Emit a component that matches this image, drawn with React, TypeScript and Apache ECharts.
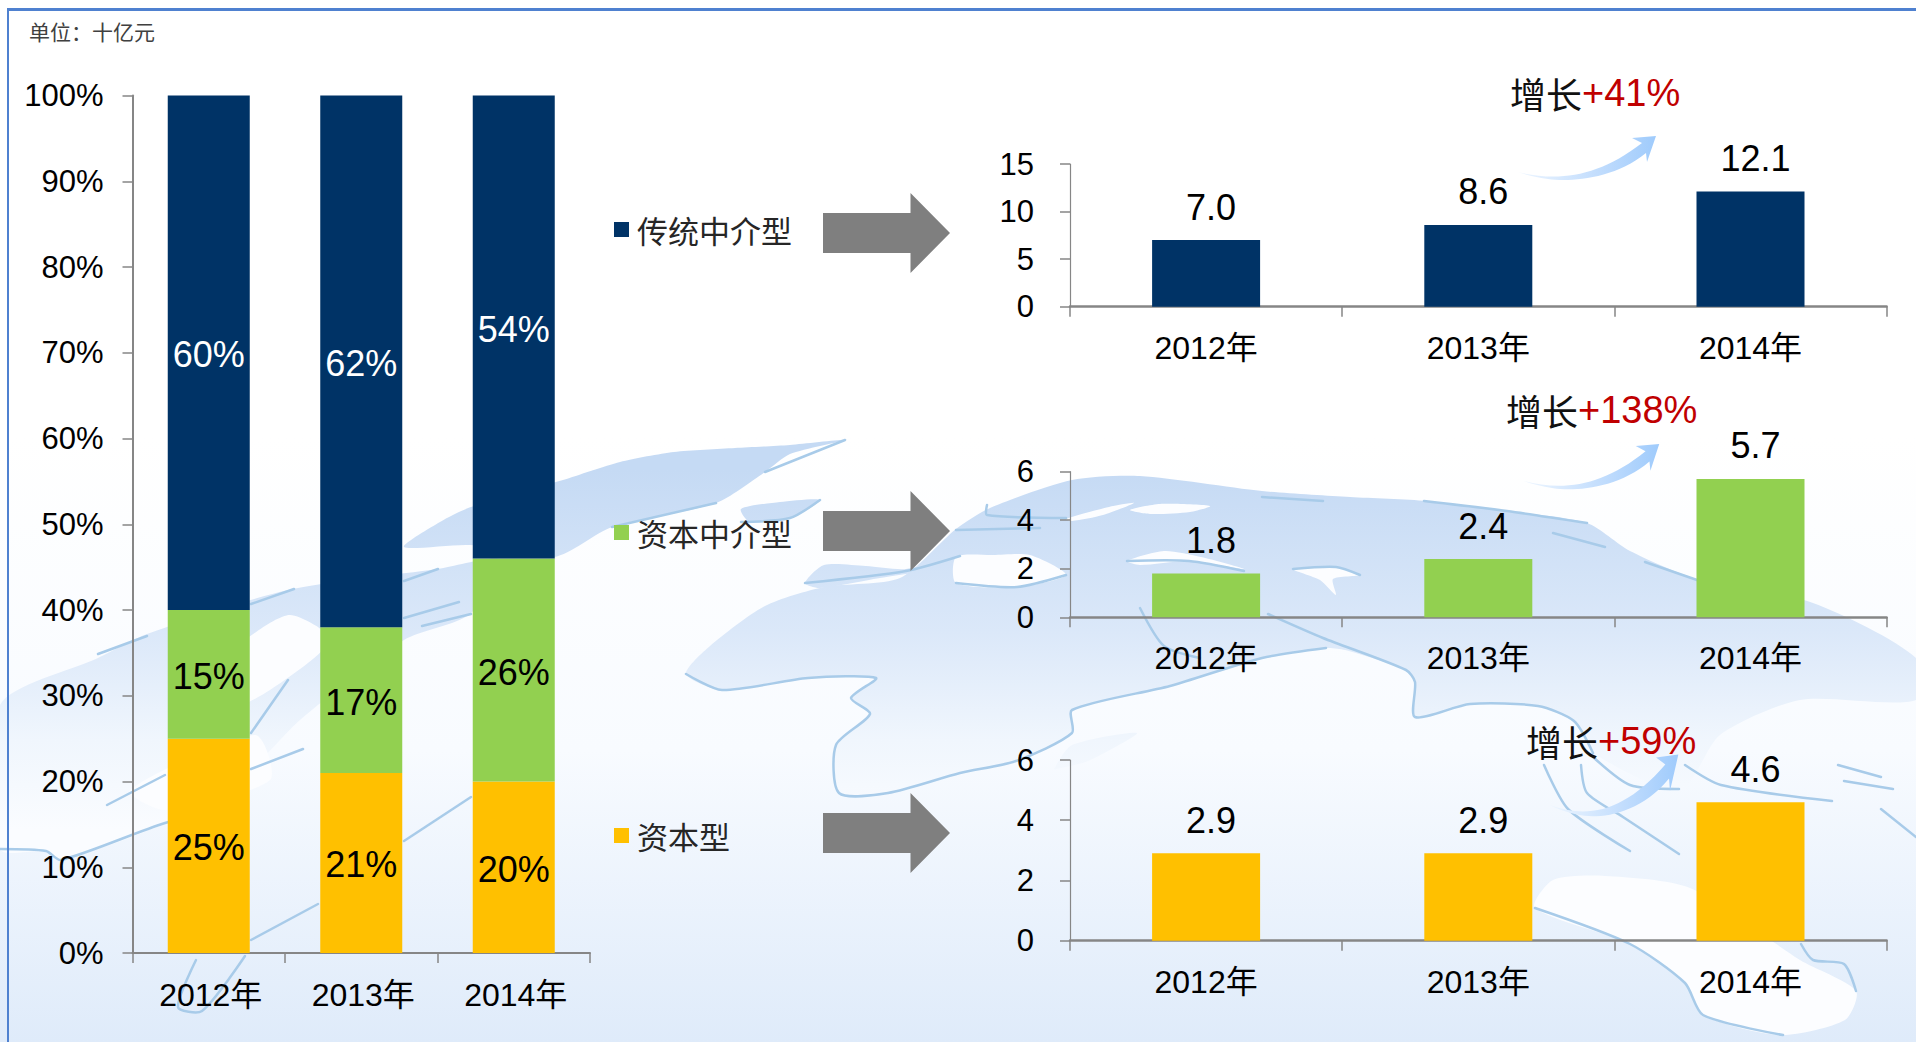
import React, { useEffect, useRef } from "react";
import * as echarts from "echarts";

const years = ["2012年", "2013年", "2014年"];
const shareCapital = [25, 21, 20];
const shareCapitalIntermediary = [15, 17, 26];
const shareTraditional = [60, 62, 54];
const valuesTraditional = [7.0, 8.6, 12.1];
const valuesCapitalIntermediary = [1.8, 2.4, 5.7];
const valuesCapital = [2.9, 2.9, 4.6];
const legendNames = ["传统中介型", "资本中介型", "资本型"];
const growthLabels = ["+41%", "+138%", "+59%"];
const unitLabel = "单位：十亿元";

const NAVY = "#003366";
const GREEN = "#92d050";
const AMBER = "#ffc000";
const AXIS = "#868686";
const FONT = "'Liberation Sans','Noto Sans CJK SC',sans-serif";
const CJK = "'Noto Sans CJK SC','Liberation Sans',sans-serif";

echarts.graphic.registerShape(
  "growArrow",
  echarts.graphic.extendPath(
    "M0 0 C40 10 80 5 124 -29 L114 -34 L138 -36 L129 -10 L128 -19 C95 8 50 10 30 7 C18 5 8 3 0 0 Z",
    {} as any
  ) as any
);

// decorative world-map backdrop
const land: number[][][] = [
  // Greenland / Arctic arm
  [[404, 547], [440, 522], [471, 507], [563, 480], [620, 462], [674, 452], [735, 448], [790, 445], [845, 440], [790, 454], [765, 472], [716, 503], [612, 527], [554, 557], [470, 545]],
  [[741, 509], [780, 502], [820, 500], [790, 518], [750, 522]],
  [[805, 583], [824, 565], [866, 566], [906, 569], [960, 555], [956, 565], [880, 578], [820, 588]],
  // Scandinavia and northern Russia + Eurasia + Arabia + Africa
  [[686, 674], [710, 646], [765, 606], [824, 587], [900, 578], [956, 529], [990, 508], [1072, 480], [1140, 476], [1262, 491], [1350, 497], [1427, 501], [1507, 511], [1587, 523], [1630, 551], [1697, 579], [1813, 603], [1916, 658], [1916, 700], [1800, 700], [1720, 735], [1680, 790], [1593, 753], [1574, 721], [1538, 706], [1470, 704], [1415, 717], [1415, 682], [1406, 670], [1345, 650], [1326, 648], [1262, 658], [1170, 686], [1072, 710], [1072, 733], [1016, 761], [960, 773], [888, 793], [839, 793], [836, 745], [870, 714], [851, 698], [876, 678], [808, 678], [722, 690]],
  // Madagascar
  [[1054, 769], [1072, 745], [1137, 733], [1088, 761], [1057, 769]],
  // left: Americas side
  [[0, 705], [98, 658], [147, 634], [288, 590], [438, 569], [500, 560], [470, 614], [404, 640], [300, 720], [250, 770], [165, 823], [61, 860], [46, 851], [0, 849]],
];
const gaps: number[][][] = [
  [[956, 557], [993, 555], [1030, 555], [1066, 575], [1017, 587], [956, 583]],
  [[1127, 561], [1164, 551], [1201, 557], [1244, 569], [1189, 561], [1140, 565]],
  [[1293, 569], [1336, 567], [1360, 575], [1333, 579], [1336, 595], [1320, 580]],
  [[1066, 519], [1109, 507], [1134, 503], [1103, 515], [1072, 521]],
  [[1130, 510], [1160, 504], [1210, 506], [1190, 512], [1150, 514]],
  [[1553, 880], [1605, 876], [1690, 888], [1800, 960], [1856, 991], [1845, 1020], [1780, 1035], [1703, 1015], [1685, 983], [1630, 944], [1535, 908]],
  [[245, 640], [290, 615], [330, 640], [270, 690], [215, 715], [175, 700]],
  [[130, 790], [255, 735], [270, 780], [165, 810]],
];
const coasts: number[][][] = [
  [[686, 674], [722, 690], [808, 678], [876, 678], [851, 698], [870, 714], [836, 745], [839, 793], [888, 793], [960, 773], [1016, 761], [1072, 733], [1072, 710], [1170, 686], [1262, 658], [1326, 648]],
  [[1140, 608], [1164, 646], [1200, 658]],
  [[1268, 614], [1323, 638], [1406, 670], [1415, 682], [1415, 717], [1470, 704], [1538, 706], [1574, 721], [1593, 753]],
  [[987, 505], [987, 515], [1066, 518]],
  [[956, 583], [1017, 587], [1066, 575]],
  [[1127, 561], [1189, 561], [1244, 571]],
  [[1293, 569], [1336, 567], [1360, 575]],
  [[956, 530], [1040, 528]],
  [[1262, 497], [1323, 501]],
  [[1424, 501], [1507, 511], [1587, 523]],
  [[1553, 533], [1605, 547]],
  [[1645, 562], [1697, 580]],
  [[805, 583], [906, 571], [960, 556]],
  [[741, 522], [790, 518], [820, 500]],
  [[612, 527], [716, 503]],
  [[765, 472], [845, 440]],
  [[98, 654], [147, 636]],
  [[251, 604], [294, 589]],
  [[404, 581], [438, 569]],
  [[422, 626], [471, 614]],
  [[404, 618], [459, 602]],
  [[251, 733], [288, 680]],
  [[251, 769], [303, 749]],
  [[107, 805], [165, 775]],
  [[0, 849], [46, 851], [61, 860], [165, 823], [240, 805]],
  [[251, 940], [318, 904]],
  [[404, 841], [471, 797]],
  [[196, 960], [178, 1007], [202, 1011], [245, 956]],
  [[1544, 765], [1568, 809], [1630, 851]],
  [[1581, 765], [1587, 793], [1623, 817], [1679, 854]],
  [[1593, 757], [1630, 785], [1679, 789]],
  [[1685, 765], [1721, 785], [1832, 801]],
  [[1838, 765], [1881, 777]],
  [[1844, 781], [1893, 789]],
  [[1881, 809], [1916, 837]],
  [[1535, 908], [1630, 944], [1685, 983], [1703, 1015], [1783, 1035]],
  [[1801, 944], [1813, 960], [1844, 964], [1856, 991]],
];

function blockArrow(cy: number) {
  return {
    type: "polygon",
    z: 1,
    shape: {
      points: [[823, cy - 20], [910.5, cy - 20], [910.5, cy - 40], [950, cy], [910.5, cy + 40], [910.5, cy + 20], [823, cy + 20]],
    },
    style: { fill: "#7f7f7f" },
  };
}

function growText(label: string, x: number, y: number) {
  return {
    type: "text",
    x,
    y,
    z: 6,
    style: {
      text: `{a|增长}{b|${label}}`,
      verticalAlign: "middle",
      rich: {
        a: { fontFamily: CJK, fontSize: 36, fill: "#111111", fontWeight: "normal" },
        b: { fontFamily: FONT, fontSize: 38, fill: "#c00000", fontWeight: "normal" },
      },
    },
  };
}

function growArrow(x: number, y: number, sx: number, sy: number) {
  return {
    type: "growArrow",
    x,
    y,
    scaleX: sx,
    scaleY: sy,
    z: 5,
    style: {
      fill: new echarts.graphic.LinearGradient(0, 0, 1, 0, [
        { offset: 0, color: "#eef6ff" },
        { offset: 0.55, color: "#c4defd" },
        { offset: 1, color: "#9fcbfc" },
      ]),
    },
  };
}

function background() {
  const fill = new echarts.graphic.LinearGradient(0, 470, 0, 830, [
    { offset: 0, color: "#c5daf4" },
    { offset: 0.45, color: "#dbe8f9" },
    { offset: 0.75, color: "#f0f6fd" },
    { offset: 1, color: "#fafcff" },
  ], true);
  return [
    {
      type: "rect",
      z: -5,
      shape: { x: 0, y: 0, width: 1916, height: 1042 },
      style: {
        fill: new echarts.graphic.LinearGradient(0, 0, 0, 1, [
          { offset: 0, color: "#ffffff" },
          { offset: 0.42, color: "#ffffff" },
          { offset: 0.72, color: "#f8fbff" },
          { offset: 1, color: "#dfebfa" },
        ]),
      },
    },
    ...land.map((points) => ({ type: "polygon", z: -4, shape: { points, smooth: 0.25 }, style: { fill } })),
    ...gaps.map((points) => ({ type: "polygon", z: -3, shape: { points, smooth: 0.25 }, style: { fill: "#fcfdff" } })),
    ...coasts.map((points) => ({
      type: "polyline",
      z: -2,
      shape: { points, smooth: 0.25 },
      style: { fill: "none", stroke: "#a8cbe9", lineWidth: 2.5, lineCap: "round" },
    })),
    { type: "rect", z: 7, shape: { x: 7, y: 8, width: 1909, height: 3 }, style: { fill: "#4f81d0" } },
    { type: "rect", z: 7, shape: { x: 7, y: 8, width: 2, height: 1034 }, style: { fill: "#4f81d0" } },
  ];
}

function App() {
  const ref = useRef<HTMLDivElement>(null);
  useEffect(() => {
    document.body.style.margin = "0";
    const chart = echarts.init(ref.current!, undefined, { renderer: "svg" });

    const xAxis = (gridIndex: number, margin: number, pad: number) => ({
      type: "category",
      gridIndex,
      data: years,
      axisLine: { lineStyle: { color: AXIS, width: gridIndex === 0 ? 2 : 2.5 } },
      axisTick: { show: true, length: 10, alignWithLabel: false, lineStyle: { color: AXIS, width: 1.5 } },
      axisLabel: { color: "#000", fontSize: 32, fontFamily: FONT, margin, padding: [0, 0, 0, pad], interval: 0 },
    });
    const yAxis = (gridIndex: number, max: number, interval: number, suffix: string, margin: number) => ({
      type: "value",
      gridIndex,
      min: 0,
      max,
      interval,
      splitLine: { show: false },
      axisLine: { show: true, onZero: false, lineStyle: { color: AXIS, width: gridIndex === 0 ? 2 : 1.2 } },
      axisTick: { show: true, length: 10, lineStyle: { color: AXIS, width: 1.5 } },
      axisLabel: { color: "#000", fontSize: 31, fontFamily: FONT, margin, formatter: `{value}${suffix}` },
    });
    const stacked = (name: string, data: number[], color: string, labelColor: string) => ({
      type: "bar",
      name,
      stack: "share",
      xAxisIndex: 0,
      yAxisIndex: 0,
      barWidth: 82,
      data,
      itemStyle: { color },
      label: { show: true, position: "inside", offset: [0, 2], formatter: "{c}%", color: labelColor, fontSize: 36, fontFamily: FONT },
    });
    const small = (name: string, idx: number, data: number[], color: string) => ({
      type: "bar",
      name,
      xAxisIndex: idx,
      yAxisIndex: idx,
      barWidth: 108,
      data,
      itemStyle: { color },
      label: {
        show: true,
        position: "top",
        distance: 15,
        offset: [5, 0],
        formatter: (p: any) => p.value.toFixed(1),
        color: "#000",
        fontSize: 36,
        fontFamily: FONT,
      },
    });

    chart.setOption({
      animation: false,
      backgroundColor: "#ffffff",
      title: {
        text: unitLabel,
        left: 24,
        top: 15,
        textStyle: { fontFamily: CJK, fontSize: 21, fontWeight: "normal", color: "#404040" },
      },
      legend: {
        orient: "vertical",
        left: 609,
        top: 209,
        itemWidth: 15,
        itemHeight: 15,
        itemGap: 272,
        icon: "rect",
        selectedMode: false,
        data: legendNames,
        textStyle: { fontFamily: CJK, fontSize: 31, color: "#262626", lineHeight: 30, padding: [0, 0, 0, 3] },
      },
      grid: [
        { left: 132.5, top: 95.5, width: 457.5, height: 857.5 },
        { left: 1070, top: 164, width: 816.6, height: 142.7 },
        { left: 1070, top: 471.7, width: 816.6, height: 145.6 },
        { left: 1070, top: 760, width: 816.6, height: 180.7 },
      ],
      xAxis: [xAxis(0, 26, 4), xAxis(1, 25, 0), xAxis(2, 25, 0), xAxis(3, 25, 0)],
      yAxis: [
        yAxis(0, 100, 10, "%", 29),
        yAxis(1, 15, 5, "", 36),
        yAxis(2, 6, 2, "", 36),
        yAxis(3, 6, 2, "", 36),
      ],
      series: [
        stacked(legendNames[2], shareCapital, AMBER, "#000"),
        stacked(legendNames[1], shareCapitalIntermediary, GREEN, "#000"),
        stacked(legendNames[0], shareTraditional, NAVY, "#fff"),
        small(`${legendNames[0]}规模`, 1, valuesTraditional, NAVY),
        small(`${legendNames[1]}规模`, 2, valuesCapitalIntermediary, GREEN),
        small(`${legendNames[2]}规模`, 3, valuesCapital, AMBER),
      ],
      graphic: [
        {
          elements: [
            ...background(),
            blockArrow(233),
            blockArrow(531),
            blockArrow(833),
            growArrow(1518, 172, 1, 1),
            growArrow(1524, 481, 0.98, 1.03),
            growArrow(1550, 805, 0.93, 1.4),
            growText(growthLabels[0], 1510, 93),
            growText(growthLabels[1], 1506, 410),
            growText(growthLabels[2], 1526, 741),
          ],
        },
      ],
    });
    return () => chart.dispose();
  }, []);
  return <div ref={ref} style={{ position: "fixed", left: 0, top: 0, width: 1916, height: 1042 }} />;
}

export default App;
